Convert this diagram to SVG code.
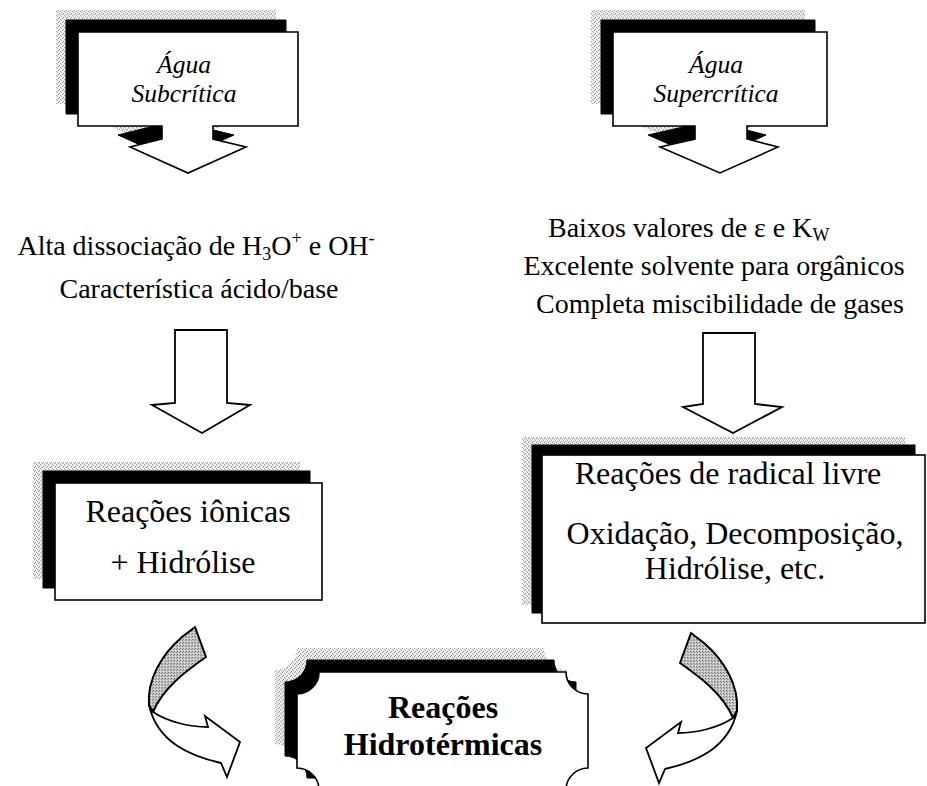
<svg xmlns="http://www.w3.org/2000/svg" xmlns:xlink="http://www.w3.org/1999/xlink" width="927" height="786" viewBox="0 0 927 786">
<style>
  .face{fill:#fff;stroke:#000;stroke-width:1.6;stroke-linejoin:miter}
  .shb{fill:#000;stroke:#000;stroke-width:1}
  .shg{fill:url(#stip);stroke:none}
  .arrow{fill:#fff;stroke:#000;stroke-width:1.8;stroke-linejoin:miter}
  .band{fill:url(#stipDark);stroke:#000;stroke-width:2}
  .t{font-family:"Liberation Serif","Times New Roman",serif;font-size:28px;fill:#000}
  .ti{font-family:"Liberation Serif","Times New Roman",serif;font-size:25.5px;font-style:italic;fill:#000;text-anchor:middle}
  .tb{font-family:"Liberation Serif","Times New Roman",serif;font-size:32px;fill:#000;text-anchor:middle}
  .tbb{font-family:"Liberation Serif","Times New Roman",serif;font-size:32px;font-weight:bold;fill:#000;text-anchor:middle}
  .mid{text-anchor:middle}
</style>
<defs>
  <pattern id="stip" width="4" height="4" patternUnits="userSpaceOnUse">
    <rect width="4" height="4" fill="#eeeeee"/>
    <rect x="0" y="0" width="1" height="1" fill="#8a8a8a"/>
    <rect x="2" y="1" width="1" height="1" fill="#a0a0a0"/>
    <rect x="1" y="3" width="1" height="1" fill="#959595"/>
    <rect x="3" y="2" width="1" height="1" fill="#b0b0b0"/>
  </pattern>
  <pattern id="stipDark" width="3" height="3" patternUnits="userSpaceOnUse">
    <rect width="3" height="3" fill="#c4c4c4"/>
    <rect x="0" y="0" width="1" height="1" fill="#6e6e6e"/>
    <rect x="2" y="1" width="1" height="1" fill="#8c8c8c"/>
    <rect x="1" y="2" width="1" height="1" fill="#e8e8e8"/>
  </pattern>
  <path id="shape-sub" d="M78,32 H298 V126 H213 V139 L246,147 L188,173 L130,147 L162,139 V126 H78 Z"/>
  <path id="shape-super" d="M613,32 H827 V126 H747 V139 L778,147 L720,173 L660,147 L695,139 V126 H613 Z"/>
  <rect id="shape-ion" x="55" y="483" width="267" height="117"/>
  <rect id="shape-rad" x="542" y="455" width="383" height="168"/>
  <path id="shape-hid" d="M319,672 L566,672 A22,22 0 0 0 588,694 L588,768 A22,22 0 0 0 566,790 L319,790 A22,22 0 0 0 297,768 L297,694 A22,22 0 0 0 319,672 Z"/>
  <g id="curved">
    <path class="band" d="M182,637 L195,627 L206,657 C186,671 163,688 153,712 L149,705 C147,680 161,655 182,637 Z"/>
    <path class="arrow" d="M149,705 L153,712 C168,722 190,727 208,727 L205,716 L240,742 L227,777 L221,763 C190,756 157,742 149,705 Z"/>
  </g>
</defs>

<g id="agua-subcritica">
  <use href="#shape-sub" class="shg" transform="translate(-22,-22)"/>
  <use href="#shape-sub" class="shb" transform="translate(-12,-12)"/>
  <use href="#shape-sub" class="face"/>
  <text class="ti" x="184" y="73">Água</text>
  <text class="ti" x="184" y="102">Subcrítica</text>
</g>

<g id="agua-supercritica">
  <use href="#shape-super" class="shg" transform="translate(-22,-22)"/>
  <use href="#shape-super" class="shb" transform="translate(-12,-12)"/>
  <use href="#shape-super" class="face"/>
  <text class="ti" x="716" y="73">Água</text>
  <text class="ti" x="716" y="102">Supercrítica</text>
</g>

<g id="props-sub">
  <text class="t mid" x="196" y="255">Alta dissociação de H<tspan font-size="18" dy="5">3</tspan><tspan dy="-5">O</tspan><tspan font-size="18" dy="-11">+</tspan><tspan dy="11"> e OH</tspan><tspan font-size="18" dy="-11">-</tspan></text>
  <text class="t mid" x="199" y="298">Característica ácido/base</text>
</g>

<g id="props-super">
  <text class="t" x="548" y="237">Baixos valores de ε e K<tspan font-size="18" dy="4">W</tspan></text>
  <text class="t mid" x="714" y="275">Excelente solvente para orgânicos</text>
  <text class="t mid" x="720" y="313">Completa miscibilidade de gases</text>
</g>

<g id="reacoes-ionicas">
  <use href="#shape-ion" class="shg" transform="translate(-22,-21)"/>
  <use href="#shape-ion" class="shb" transform="translate(-12,-12)"/>
  <use href="#shape-ion" class="face"/>
  <text class="tb" x="188" y="522">Reações iônicas</text>
  <text class="tb" x="183" y="573">+ Hidrólise</text>
</g>

<g id="reacoes-radical">
  <use href="#shape-rad" class="shg" transform="translate(-20,-18)"/>
  <use href="#shape-rad" class="shb" transform="translate(-10,-10)"/>
  <use href="#shape-rad" class="face"/>
  <text class="tb" x="728" y="484">Reações de radical livre</text>
  <text class="tb" x="735" y="544">Oxidação, Decomposição,</text>
  <text class="tb" x="735" y="579">Hidrólise, etc.</text>
</g>

<g id="reacoes-hidrotermicas">
  <use href="#shape-hid" class="shg" transform="translate(-22,-24)"/>
  <use href="#shape-hid" class="shb" transform="translate(-12,-12)"/>
  <use href="#shape-hid" class="face"/>
  <text class="tbb" x="443" y="718">Reações</text>
  <text class="tbb" x="443" y="755">Hidrotérmicas</text>
</g>

<g id="connectors">
  <path class="arrow" d="M175,330 H227 V403 L250,405 L202,433 L152,405 L175,403 Z"/>
  <path class="arrow" d="M703,333 H755 V404 L782,407 L733,433 L683,407 L703,404 Z"/>
  <use href="#curved"/>
  <use href="#curved" transform="translate(886,6) scale(-1,1)"/>
</g>
</svg>
